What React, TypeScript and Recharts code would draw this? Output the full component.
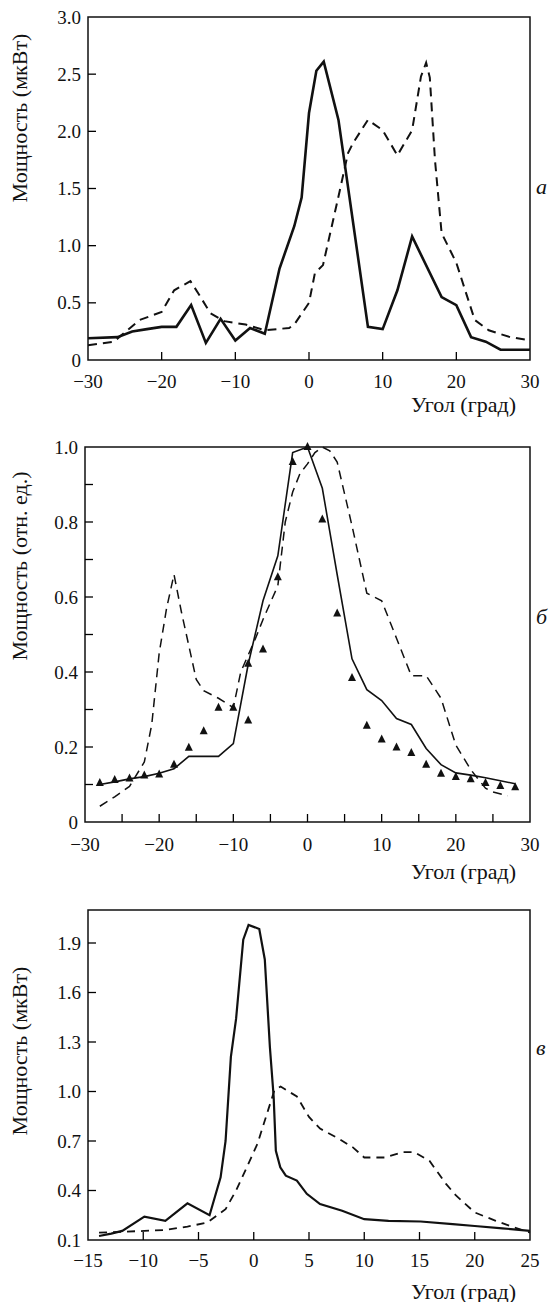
import { LineChart, ComposedChart, Line, Scatter, XAxis, YAxis, ReferenceArea } from 'recharts';

// panel a (мкВт)
const aSolidAngle = [-30, -26, -24, -22, -20, -18, -16, -14, -12, -10, -8, -6, -4, -2, -1, 0, 1, 2, 4, 8, 10, 12, 14, 18, 20, 22, 24, 26, 30];
const aSolidPower = [0.19, 0.2, 0.25, 0.27, 0.29, 0.29, 0.48, 0.15, 0.36, 0.17, 0.28, 0.23, 0.8, 1.17, 1.42, 2.16, 2.53, 2.61, 2.1, 0.29, 0.27, 0.61, 1.08, 0.55, 0.48, 0.2, 0.16, 0.09, 0.09];
const aDashAngle = [-30, -26.5, -23, -20, -18.3, -16.1, -15, -13.4, -11.5, -8.6, -6, -2.7, -2, 0, 0.8, 1.9, 4, 5.3, 6, 8, 10, 12, 14, 15.2, 15.9, 16.4, 17.1, 18, 20, 22.5, 24.4, 27.3, 29.8];
const aDashPower = [0.13, 0.16, 0.35, 0.42, 0.61, 0.69, 0.58, 0.41, 0.34, 0.31, 0.26, 0.28, 0.31, 0.5, 0.76, 0.83, 1.43, 1.81, 1.9, 2.1, 2.01, 1.79, 2.01, 2.48, 2.6, 2.47, 1.75, 1.11, 0.85, 0.35, 0.26, 0.2, 0.175];
const aXTicks = [-30, -20, -10, 0, 10, 20, 30];
const aYTicks = [0, 0.5, 1, 1.5, 2, 2.5, 3];

// panel b (отн. ед.)
const bSolidAngle = [-28, -26, -24, -22, -20, -18, -16, -14, -12, -10, -8, -6, -4, -2, 0, 2, 4, 6, 8, 10, 12, 14, 16, 18, 20, 22, 24, 26, 28];
const bSolidPower = [0.1, 0.107, 0.115, 0.121, 0.13, 0.142, 0.175, 0.175, 0.175, 0.209, 0.42, 0.59, 0.71, 0.985, 1.0, 0.89, 0.66, 0.435, 0.353, 0.324, 0.276, 0.26, 0.196, 0.153, 0.131, 0.125, 0.118, 0.11, 0.102];
const bDashAngle = [-28, -26, -24, -22, -21, -20, -19, -18, -17, -16, -15, -14, -12, -10, -9, -7, -6, -4, -3, -2, -1, 0, 1, 2, 3, 4, 6, 8, 10, 12, 14, 16, 18, 20, 22, 24, 25, 27];
const bDashPower = [0.042, 0.067, 0.095, 0.16, 0.26, 0.45, 0.57, 0.66, 0.56, 0.47, 0.38, 0.35, 0.33, 0.305, 0.4, 0.49, 0.54, 0.63, 0.8, 0.88, 0.93, 0.955, 0.985, 1.0, 0.99, 0.96, 0.79, 0.61, 0.59, 0.49, 0.39, 0.39, 0.33, 0.205, 0.14, 0.09, 0.08, 0.07];
const bDotAngle = [-28, -26, -24, -22, -20, -18, -16, -14, -12, -10, -8, -8, -6, -4, -2, 0, 2, 4, 6, 8, 10, 12, 14, 16, 18, 20, 22, 24, 26, 28];
const bDotPower = [0.104, 0.112, 0.116, 0.124, 0.127, 0.153, 0.198, 0.242, 0.305, 0.305, 0.271, 0.422, 0.46, 0.653, 0.96, 1.0, 0.807, 0.556, 0.384, 0.257, 0.22, 0.199, 0.184, 0.153, 0.129, 0.12, 0.114, 0.104, 0.096, 0.093];
const bXTicks = [-30, -25, -20, -15, -10, -5, 0, 5, 10, 15, 20, 25, 30];
const bXLabels = [-30, -20, -10, 0, 10, 20, 30];
const bYTicks = [0, 0.1, 0.2, 0.3, 0.4, 0.5, 0.6, 0.7, 0.8, 0.9, 1.0];
const bYLabels = [0, 0.2, 0.4, 0.6, 0.8, 1.0];

// panel c (мкВт)
const cSolidAngle = [-14, -12.9, -11.9, -9.9, -8, -6, -4, -3, -2.55, -2.07, -1.6, -0.95, -0.47, 0.5, 1, 1.46, 1.8, 2, 2.4, 2.9, 3.9, 4.8, 6, 8, 10, 12.2, 15.1, 18, 20, 22.5, 25];
const cSolidPower = [0.124, 0.139, 0.155, 0.242, 0.216, 0.322, 0.25, 0.48, 0.7, 1.21, 1.44, 1.92, 2.01, 1.985, 1.8, 1.27, 0.97, 0.64, 0.54, 0.49, 0.46, 0.38, 0.318, 0.277, 0.226, 0.216, 0.212, 0.196, 0.185, 0.171, 0.155];
const cDashAngle = [-14, -11.9, -9.9, -8, -6, -4.2, -2.55, -1.6, -0.63, 0.34, 1.3, 1.88, 2.43, 3.9, 5, 6, 7.7, 9, 10, 11.9, 13.5, 14.5, 15.9, 17.4, 18.3, 20, 21.9, 23.2, 25];
const cDashPower = [0.145, 0.15, 0.155, 0.161, 0.181, 0.206, 0.287, 0.4, 0.54, 0.684, 0.887, 1.01, 1.03, 0.97, 0.846, 0.775, 0.714, 0.66, 0.6, 0.6, 0.633, 0.633, 0.58, 0.44, 0.37, 0.267, 0.216, 0.185, 0.145];
const cXTicks = [-15, -10, -5, 0, 5, 10, 15, 20, 25];
const cYTicks = [0.1, 0.4, 0.7, 1.0, 1.3, 1.6, 1.9];

const zip = (xs: number[], ys: number[]) => xs.map((x, i) => ({ x, y: ys[i] }));

const FONT = "Liberation Serif, Tinos, Times New Roman, Times, DejaVu Serif, serif";
const near = (list: number[], v: number) => list.some((t) => Math.abs(t - v) < 1e-6);
const minus = (s: string) => s.replace('-', '\u2212');

function xTick(labels: number[], inner: number[], off: number) {
    return (props: any) => {
        const { x, y, payload } = props;
        const v = payload.value;
        return (
            <g>
                {near(inner, v) && <line x1={x} x2={x} y1={y} y2={y - 8} stroke="#000" strokeWidth={1.3} />}
                {near(labels, v) && (
                    <text x={x} y={y + off} textAnchor="middle" fontSize={19} fontFamily={FONT} fill="#111">
                        {minus(String(v))}
                    </text>
                )}
            </g>
        );
    };
}

function yTick(labels: number[], inner: number[], fmt: (v: number) => string) {
    return (props: any) => {
        const { x, y, payload } = props;
        const v = payload.value;
        return (
            <g>
                {near(inner, v) && <line x1={x} x2={x + 8} y1={y} y2={y} stroke="#000" strokeWidth={1.3} />}
                {near(labels, v) && (
                    <text x={x - 7} y={y} dy="0.35em" textAnchor="end" fontSize={19} fontFamily={FONT} fill="#111">
                        {fmt(v)}
                    </text>
                )}
            </g>
        );
    };
}

const fmtA = (v: number) => (v === 0 ? '0' : v.toFixed(1));

const triangle = (p: any) => {
    const { cx, cy } = p;
    return <polygon points={`${cx},${cy - 5} ${cx - 4},${cy + 3} ${cx + 4},${cy + 3}`} fill="#111" />;
};

const textStyle: React.CSSProperties = { position: 'absolute', fontFamily: FONT, fontSize: 22, color: '#111', whiteSpace: 'nowrap', lineHeight: 1 };

function YTitle({ top, text }: { top: number; text: string }) {
    return (
        <div style={{ ...textStyle, left: 20, top, transform: 'translate(-50%, -50%) rotate(-90deg)' }}>{text}</div>
    );
}

function XTitle({ top }: { top: number }) {
    return <div style={{ ...textStyle, right: 558 - 516, top, transform: 'translateY(-50%)' }}>Угол (град)</div>;
}

function Letter({ top, text }: { top: number; text: string }) {
    return <div style={{ ...textStyle, left: 536, top, transform: 'translateY(-50%)', fontStyle: 'italic' }}>{text}</div>;
}

export default function App() {
    return (
        <div style={{ position: 'absolute', left: 0, top: 0, width: 558, height: 1302, background: '#fff' }}>
            {/* a */}
            <div style={{ position: 'absolute', left: 0, top: 0 }}>
                <LineChart width={558} height={430} margin={{ top: 17, right: 28, left: 28, bottom: 30 }}>
                    <XAxis type="number" dataKey="x" domain={[-30, 30]} ticks={aXTicks} interval={0} axisLine={false} tickLine={false} tickSize={0} tickMargin={0} height={40}
                        tick={xTick(aXTicks, [-20, -10, 0, 10, 20], 28)} />
                    <YAxis type="number" domain={[0, 3]} ticks={aYTicks} interval={0} axisLine={false} tickLine={false} tickSize={0} tickMargin={0} width={60}
                        tick={yTick(aYTicks, [0.5, 1, 1.5, 2, 2.5], fmtA)} />
                    <ReferenceArea x1={-30} x2={30} y1={0} y2={3} fill="none" stroke="#111" strokeWidth={1.5} />
                    <Line data={zip(aDashAngle, aDashPower)} dataKey="y" type="linear" stroke="#111" strokeWidth={2} strokeDasharray="9 6" dot={false} isAnimationActive={false} />
                    <Line data={zip(aSolidAngle, aSolidPower)} dataKey="y" type="linear" stroke="#111" strokeWidth={2.6} dot={false} isAnimationActive={false} />
                </LineChart>
            </div>
            <YTitle top={118} text="Мощность (мкВт)" />
            <XTitle top={405} />
            <Letter top={187} text="а" />

            {/* б */}
            <div style={{ position: 'absolute', left: 0, top: 430 }}>
                <ComposedChart width={558} height={450} margin={{ top: 17, right: 28, left: 25, bottom: 18 }}>
                    <XAxis type="number" dataKey="x" domain={[-30, 30]} ticks={bXTicks} interval={0} axisLine={false} tickLine={false} tickSize={0} tickMargin={0} height={40}
                        tick={xTick(bXLabels, bXTicks.slice(1, -1), 29)} />
                    <YAxis type="number" domain={[0, 1]} ticks={bYTicks} interval={0} axisLine={false} tickLine={false} tickSize={0} tickMargin={0} width={60}
                        tick={yTick(bYLabels, bYTicks.slice(1, -1), fmtA)} />
                    <ReferenceArea x1={-30} x2={30} y1={0} y2={1} fill="none" stroke="#111" strokeWidth={1.5} />
                    <Line data={zip(bDashAngle, bDashPower)} dataKey="y" type="linear" stroke="#111" strokeWidth={1.5} strokeDasharray="9 6" dot={false} isAnimationActive={false} />
                    <Line data={zip(bSolidAngle, bSolidPower)} dataKey="y" type="linear" stroke="#111" strokeWidth={1.6} dot={false} isAnimationActive={false} />
                    <Scatter data={zip(bDotAngle, bDotPower)} dataKey="y" shape={triangle} isAnimationActive={false} />
                </ComposedChart>
            </div>
            <YTitle top={566} text="Мощность (отн. ед.)" />
            <XTitle top={872} />
            <Letter top={617} text="б" />

            {/* в */}
            <div style={{ position: 'absolute', left: 0, top: 880 }}>
                <LineChart width={558} height={422} margin={{ top: 30, right: 28, left: 28, bottom: 22 }}>
                    <XAxis type="number" dataKey="x" domain={[-15, 25]} ticks={cXTicks} interval={0} axisLine={false} tickLine={false} tickSize={0} tickMargin={0} height={40}
                        tick={xTick(cXTicks, cXTicks.slice(1, -1), 27)} />
                    <YAxis type="number" domain={[0.1, 2.1]} ticks={cYTicks} interval={0} axisLine={false} tickLine={false} tickSize={0} tickMargin={0} width={60}
                        tick={yTick(cYTicks, cYTicks.slice(1), (v) => v.toFixed(1))} />
                    <ReferenceArea x1={-15} x2={25} y1={0.1} y2={2.1} fill="none" stroke="#111" strokeWidth={1.5} />
                    <Line data={zip(cDashAngle, cDashPower)} dataKey="y" type="linear" stroke="#111" strokeWidth={1.8} strokeDasharray="8 6" dot={false} isAnimationActive={false} />
                    <Line data={zip(cSolidAngle, cSolidPower)} dataKey="y" type="linear" stroke="#111" strokeWidth={2.2} dot={false} isAnimationActive={false} />
                </LineChart>
            </div>
            <YTitle top={1051} text="Мощность (мкВт)" />
            <XTitle top={1292} />
            <Letter top={1048} text="в" />
        </div>
    );
}
